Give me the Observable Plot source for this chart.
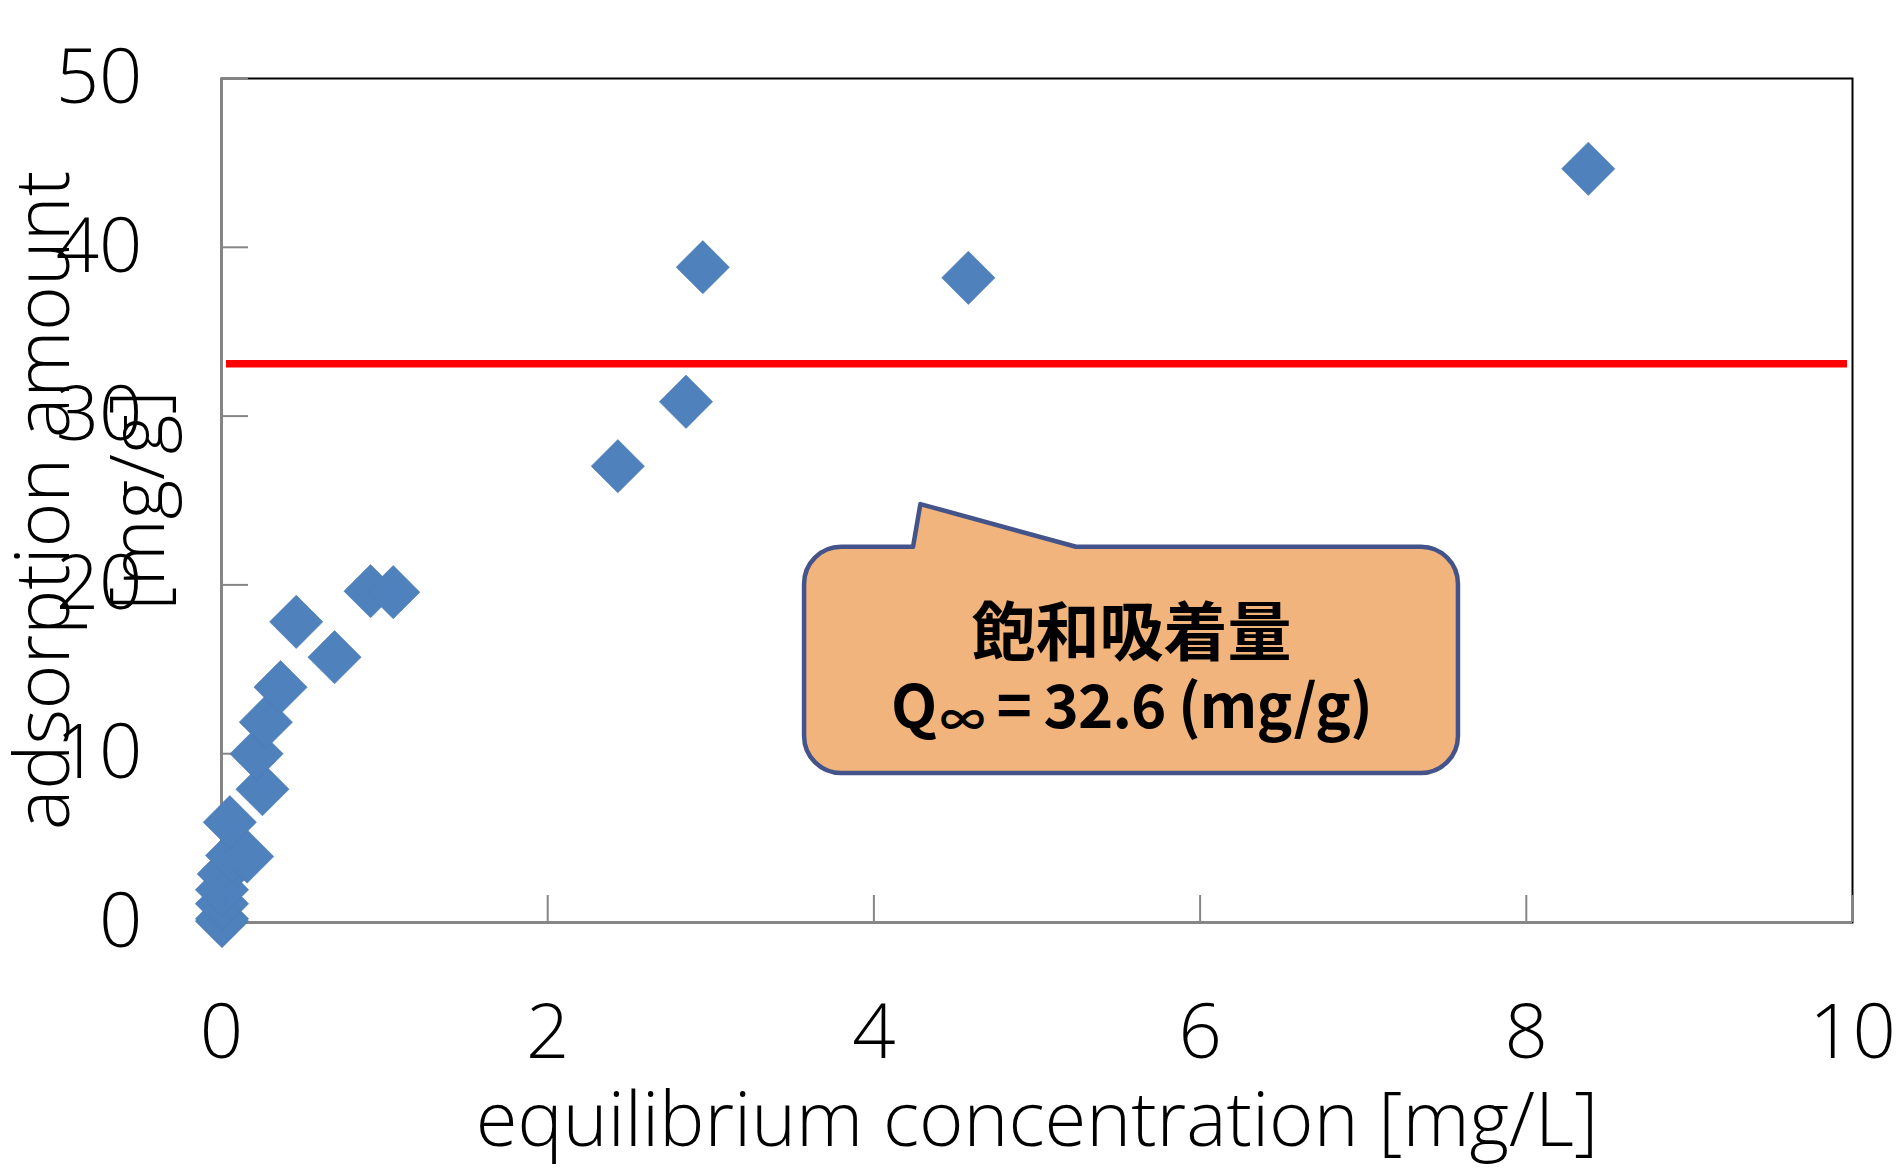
<!DOCTYPE html>
<html><head><meta charset="utf-8">
<script src="https://cdn.jsdelivr.net/npm/d3@7"></script>
<script src="https://cdn.jsdelivr.net/npm/@observablehq/plot@0.6"></script>
<style>
html,body{margin:0;padding:0;background:#fff;}
#chart{width:1896px;height:1170px;overflow:hidden;}
</style></head><body><div id="chart"></div>
<script>
// ---- data ----
const concentration = [0.003, 0.003, 0.003, 0.003, 0.014, 0.065, 0.157, 0.051, 0.251, 0.215, 0.272, 0.362, 0.458, 0.693, 0.914, 1.053, 2.430, 2.848, 2.951, 4.579, 8.38];
const adsorption    = [0.08,  0.22,  1.11,  1.94,  2.88,  3.97,  3.91,  5.94,  7.90,  9.99,  11.87, 13.94, 17.81, 15.72, 19.63, 19.57, 27.03, 30.85, 38.82, 38.19, 44.65];
const saturationLine = [33.1];
const xTicks = [0, 2, 4, 6, 8, 10];
const yTicks = [0, 10, 20, 30, 40, 50];
const xTitle = "equilibrium concentration [mg/L]";
const yTitleLines = ["adsorption amount", "[mg/g]"];
const calloutLines = ["飽和吸着量", "Q∞ = 32.6 (mg/g)"];
const calloutTextY = [15.82, 11.55];
const calloutFontSize = [64, 60];
const calloutX = [3.575, 7.584];     // box left / right (data units)
const calloutY = [8.83, 22.23];      // box bottom / top
const tailX = [4.243, 4.288, 5.242]; // tail base-left, tip, base-right
const tailY = [22.23, 24.76, 22.23];

const points = concentration.map((c, i) => ({c, q: adsorption[i]}));
const calloutText = calloutLines.map((t, i) => ({t, y: calloutTextY[i], fs: calloutFontSize[i], x: (calloutX[0] + calloutX[1]) / 2}));

const axisFont = "'Open Sans', 'Noto Sans', sans-serif";
const grey = "#868686";

function callout(index, scales) {
  const X = scales.x, Y = scales.y;
  const l = X(calloutX[0]), r = X(calloutX[1]), t = Y(calloutY[1]), b = Y(calloutY[0]);
  const rr = 37;
  const p = d3.path();
  p.moveTo(l + rr, t);
  p.lineTo(X(tailX[0]), Y(tailY[0]));
  p.lineTo(X(tailX[1]), Y(tailY[1]));
  p.lineTo(X(tailX[2]), Y(tailY[2]));
  p.lineTo(r - rr, t);
  p.arcTo(r, t, r, t + rr, rr);
  p.lineTo(r, b - rr);
  p.arcTo(r, b, r - rr, b, rr);
  p.lineTo(l + rr, b);
  p.arcTo(l, b, l, b - rr, rr);
  p.lineTo(l, t + rr);
  p.arcTo(l, t, l + rr, t, rr);
  p.closePath();
  return d3.create("svg:path")
    .attr("d", p.toString())
    .attr("fill", "#F0B47C")
    .attr("stroke", "#44548A")
    .attr("stroke-width", 4.5)
    .attr("stroke-linejoin", "round")
    .node();
}

const chart = Plot.plot({
  width: 1896,
  height: 1170,
  marginLeft: 221,
  marginRight: 44,
  marginTop: 78,
  marginBottom: 248,
  style: {fontFamily: axisFont, background: "#fff", overflow: "visible"},
  x: {domain: [0, 10]},
  y: {domain: [0, 50]},
  marks: [
    Plot.frame({stroke: "#000", strokeWidth: 2}),
    Plot.axisX(xTicks, {tickSize: -27, tickPadding: 109, tickFormat: d => String(d), stroke: grey, strokeWidth: 2, fontSize: 76, fontWeight: 300, fill: "#000", label: null}),
    Plot.axisY(yTicks, {tickSize: -27, tickPadding: 106, tickFormat: d => String(d), stroke: grey, strokeWidth: 2, fontSize: 76, fontWeight: 300, fill: "#000", label: null}),
    Plot.ruleY([0], {stroke: grey, strokeWidth: 3}),
    Plot.ruleX([0], {stroke: grey, strokeWidth: 2.5}),
    Plot.ruleY(saturationLine, {stroke: "#FF0000", strokeWidth: 7.5, insetLeft: 5, insetRight: 5}),
    Plot.dot(points, {x: "c", y: "q", symbol: "diamond2", r: 24, fill: "#4F81BD", stroke: "#4A7AB4", strokeWidth: 0.6}),
    callout,
    Plot.text(calloutText, {x: "x", y: "y", text: "t", fontSize: "fs", lineAnchor: "bottom", textAnchor: "middle",
      fontFamily: "'Noto Sans CJK JP', sans-serif", fontWeight: 700, fill: "#000"}),
    Plot.text([xTitle], {frameAnchor: "bottom", textAnchor: "middle", lineAnchor: "bottom", dy: 223, fontSize: 76, fontWeight: 300, fill: "#000"}),
    Plot.text([yTitleLines[0]], {frameAnchor: "left", rotate: -90, textAnchor: "middle", lineAnchor: "bottom", dx: -153, fontSize: 76, fontWeight: 300, fill: "#000"}),
    Plot.text([yTitleLines[1]], {frameAnchor: "left", rotate: -90, textAnchor: "middle", lineAnchor: "bottom", dx: -58, fontSize: 76, fontWeight: 300, fill: "#000"})
  ]
});

// subscript the infinity sign in the callout, and narrow the second line slightly
d3.select(chart).selectAll("text").each(function () {
  const el = d3.select(this);
  if (el.text() === calloutLines[1]) {
    el.text(null);
    el.attr("letter-spacing", "-1px");
    el.append("tspan").text("Q");
    el.append("tspan").attr("font-size", "0.75em").attr("dy", "0.22em").attr("dx", "0.08em").text("∞");
    el.append("tspan").attr("dy", "-0.165em").text(" = 32.6 (mg/g)");
  }
});

document.getElementById("chart").append(chart);
</script>
</body></html>
